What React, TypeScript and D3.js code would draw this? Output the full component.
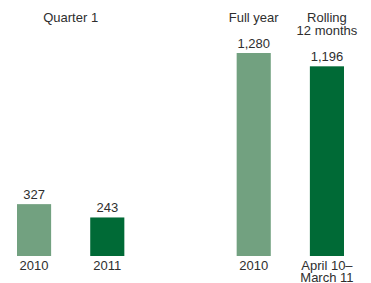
import React from 'react';
import * as d3 from 'd3';

const keys = ['q1-2010', 'q1-2011', 'gap', 'fy-2010', 'rolling'];
const barKeys = ['q1-2010', 'q1-2011', 'fy-2010', 'rolling'];
const values = [327, 243, 1280, 1196];
const barLabels = [['2010'], ['2011'], ['2010'], ['April 10–', 'March 11']];
const barColors = ['#72a180', '#006a36', '#72a180', '#006a36'];
const headers = [
  { lines: ['Quarter 1'], from: 'q1-2010', to: 'q1-2011' },
  { lines: ['Full year'], from: 'fy-2010', to: 'fy-2010' },
  { lines: ['Rolling', '12 months'], from: 'rolling', to: 'rolling' },
];

const width = 371;
const height = 283;
const baseline = 256;
const font = 'Liberation Sans, Arial, Helvetica, sans-serif';
const textColor = '#2e2e2e';

const App = () => {
  const x = d3.scaleBand()
    .domain(keys)
    .range([17, 344])
    .paddingInner(0.534)
    .paddingOuter(0);

  const y = d3.scaleLinear()
    .domain([0, 1280])
    .range([baseline, 53]);

  const center = (k) => (x(k) ?? 0) + x.bandwidth() / 2;

  return (
    <svg width={width} height={height} style={{ position: 'absolute', left: 0, top: 0 }}
      fontFamily={font} fill={textColor}>
      <rect width={width} height={height} fill="#fff" />
      {headers.map((h, i) => {
        const cx = (center(h.from) + center(h.to)) / 2;
        return (
          <text key={i} x={cx} y={22} textAnchor="middle" fontSize={13}>
            {h.lines.map((l, j) => (
              <tspan key={j} x={cx} dy={j === 0 ? 0 : 13}>{l}</tspan>
            ))}
          </text>
        );
      })}
      {barKeys.map((k, i) => (
        <g key={k}>
          <rect x={x(k)} y={y(values[i])} width={x.bandwidth()} height={baseline - y(values[i])}
            fill={barColors[i]} />
          <text x={center(k)} y={y(values[i]) - 5} textAnchor="middle" fontSize={13}>
            {d3.format(',')(values[i])}
          </text>
          <text x={center(k)} y={269.5} textAnchor="middle" fontSize={13}>
            {barLabels[i].map((l, j) => (
              <tspan key={j} x={center(k)} dy={j === 0 ? 0 : 12}>{l}</tspan>
            ))}
          </text>
        </g>
      ))}
    </svg>
  );
};

export default App;
